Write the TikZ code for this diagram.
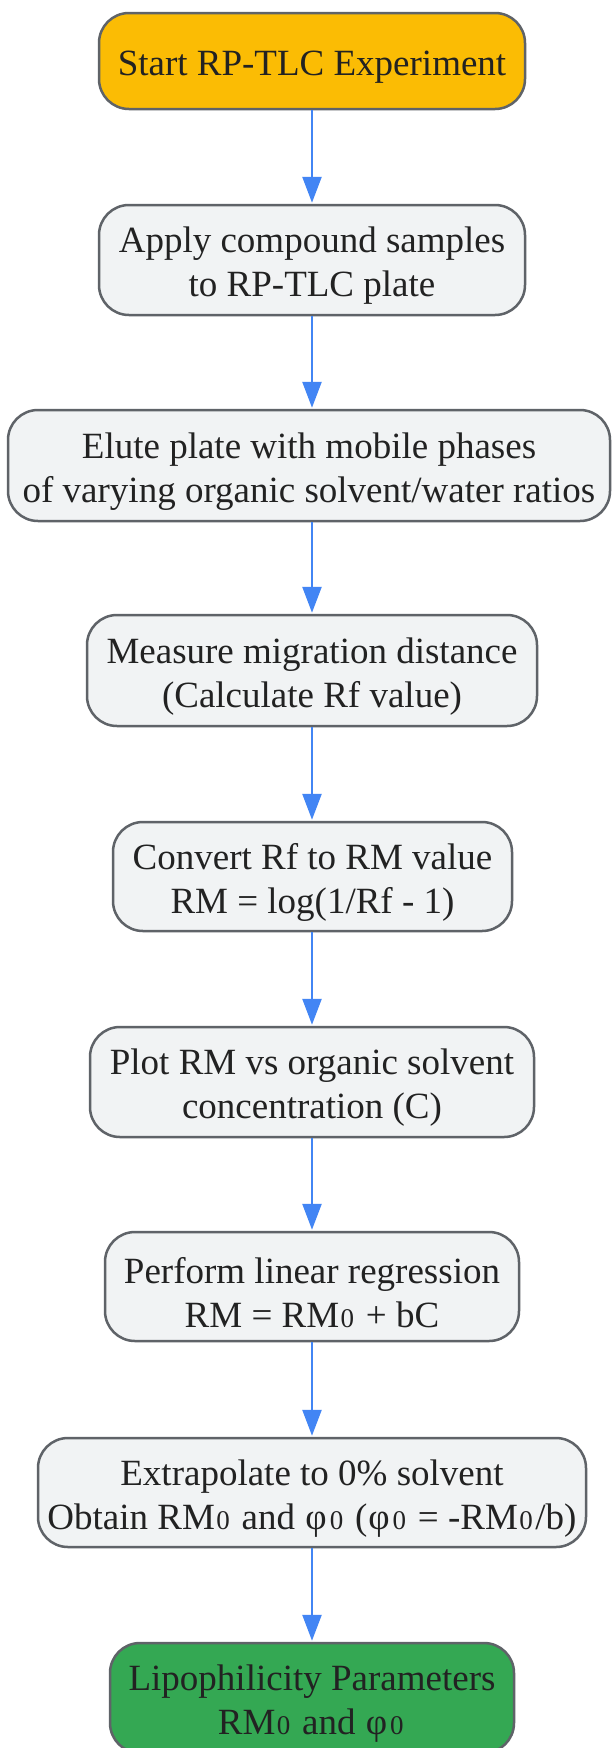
\documentclass[tikz,border=0pt]{standalone}
\usepackage{fontspec}
\setmainfont{Liberation Serif}
\usetikzlibrary{arrows.meta}
\definecolor{startfill}{HTML}{FBBC04}
\definecolor{stepfill}{HTML}{F1F3F4}
\definecolor{endfill}{HTML}{34A853}
\definecolor{bordergray}{HTML}{5F6368}
\definecolor{arrowblue}{HTML}{4285F4}
\definecolor{txt}{HTML}{222222}
\newcommand{\zsub}{{\kern1.5pt\fontsize{27}{27}\selectfont 0\kern2.5pt}}
\newcommand{\phisym}{\kern1pt φ\kern1.5pt}
\tikzset{
  x=1pt, y=-1pt,
  box/.style={draw=bordergray, line width=2.5pt, rounded corners=30pt, fill=stepfill, inner sep=0pt},
  startbox/.style={box, fill=startfill},
  endbox/.style={box, fill=endfill},
  label text/.style={text=txt, align=center, inner sep=0pt, yshift=-6pt, font=\fontsize{37}{44}\selectfont},
  flow/.style={draw=arrowblue, line width=2.5pt, -{Triangle[length=26pt,width=19pt]}, shorten >=1pt}
}
\begin{document}
\begin{tikzpicture}
\useasboundingbox (0,0) rectangle (612,1748);
\fill[white] (0,0) rectangle (612,1748);
\node[startbox, minimum width=426pt, minimum height=96pt] (n1) at (312,61) {};
\node[label text] (t1) at (n1.center) {Start RP-TLC Experiment};
\node[box, minimum width=426pt, minimum height=110pt] (n2) at (312,260) {};
\node[label text] (t2) at (n2.center) {Apply compound samples\\to RP-TLC plate};
\node[box, minimum width=602pt, minimum height=111pt] (n3) at (309,465.5) {};
\node[label text] (t3) at (n3.center) {Elute plate with mobile phases\\of varying organic solvent/water ratios};
\node[box, minimum width=450pt, minimum height=111pt] (n4) at (312,670.5) {};
\node[label text] (t4) at (n4.center) {Measure migration distance\\(Calculate Rf value)};
\node[box, minimum width=399pt, minimum height=109pt] (n5) at (312.5,876.5) {};
\node[label text] (t5) at (n5.center) {Convert Rf to RM value\\RM = log(1/Rf - 1)};
\node[box, minimum width=444pt, minimum height=110pt] (n6) at (312,1082) {};
\node[label text] (t6) at (n6.center) {Plot RM vs organic solvent\\concentration (C)};
\node[box, minimum width=414pt, minimum height=109pt] (n7) at (312,1286.5) {};
\node[label text] (t7) at (n7.center) {Perform linear regression\\RM = RM\zsub{} + bC};
\node[box, minimum width=548pt, minimum height=109pt] (n8) at (312,1492.5) {};
\node[label text] (t8) at (n8.center) {Extrapolate to 0\% solvent\\Obtain RM\zsub{} and \phisym\zsub{} (\phisym\zsub{} = -RM\zsub/b)};
\node[endbox, minimum width=404pt, minimum height=110pt] (n9) at (312,1698) {};
\node[label text] (t9) at (n9.center) {Lipophilicity Parameters\\RM\zsub{} and \phisym\zsub};
\draw[flow] (n1.south -| 312,0) -- (n2.north -| 312,0);
\draw[flow] (n2.south -| 312,0) -- (n3.north -| 312,0);
\draw[flow] (n3.south -| 312,0) -- (n4.north -| 312,0);
\draw[flow] (n4.south -| 312,0) -- (n5.north -| 312,0);
\draw[flow] (n5.south -| 312,0) -- (n6.north -| 312,0);
\draw[flow] (n6.south -| 312,0) -- (n7.north -| 312,0);
\draw[flow] (n7.south -| 312,0) -- (n8.north -| 312,0);
\draw[flow] (n8.south -| 312,0) -- (n9.north -| 312,0);
\end{tikzpicture}
\end{document}
